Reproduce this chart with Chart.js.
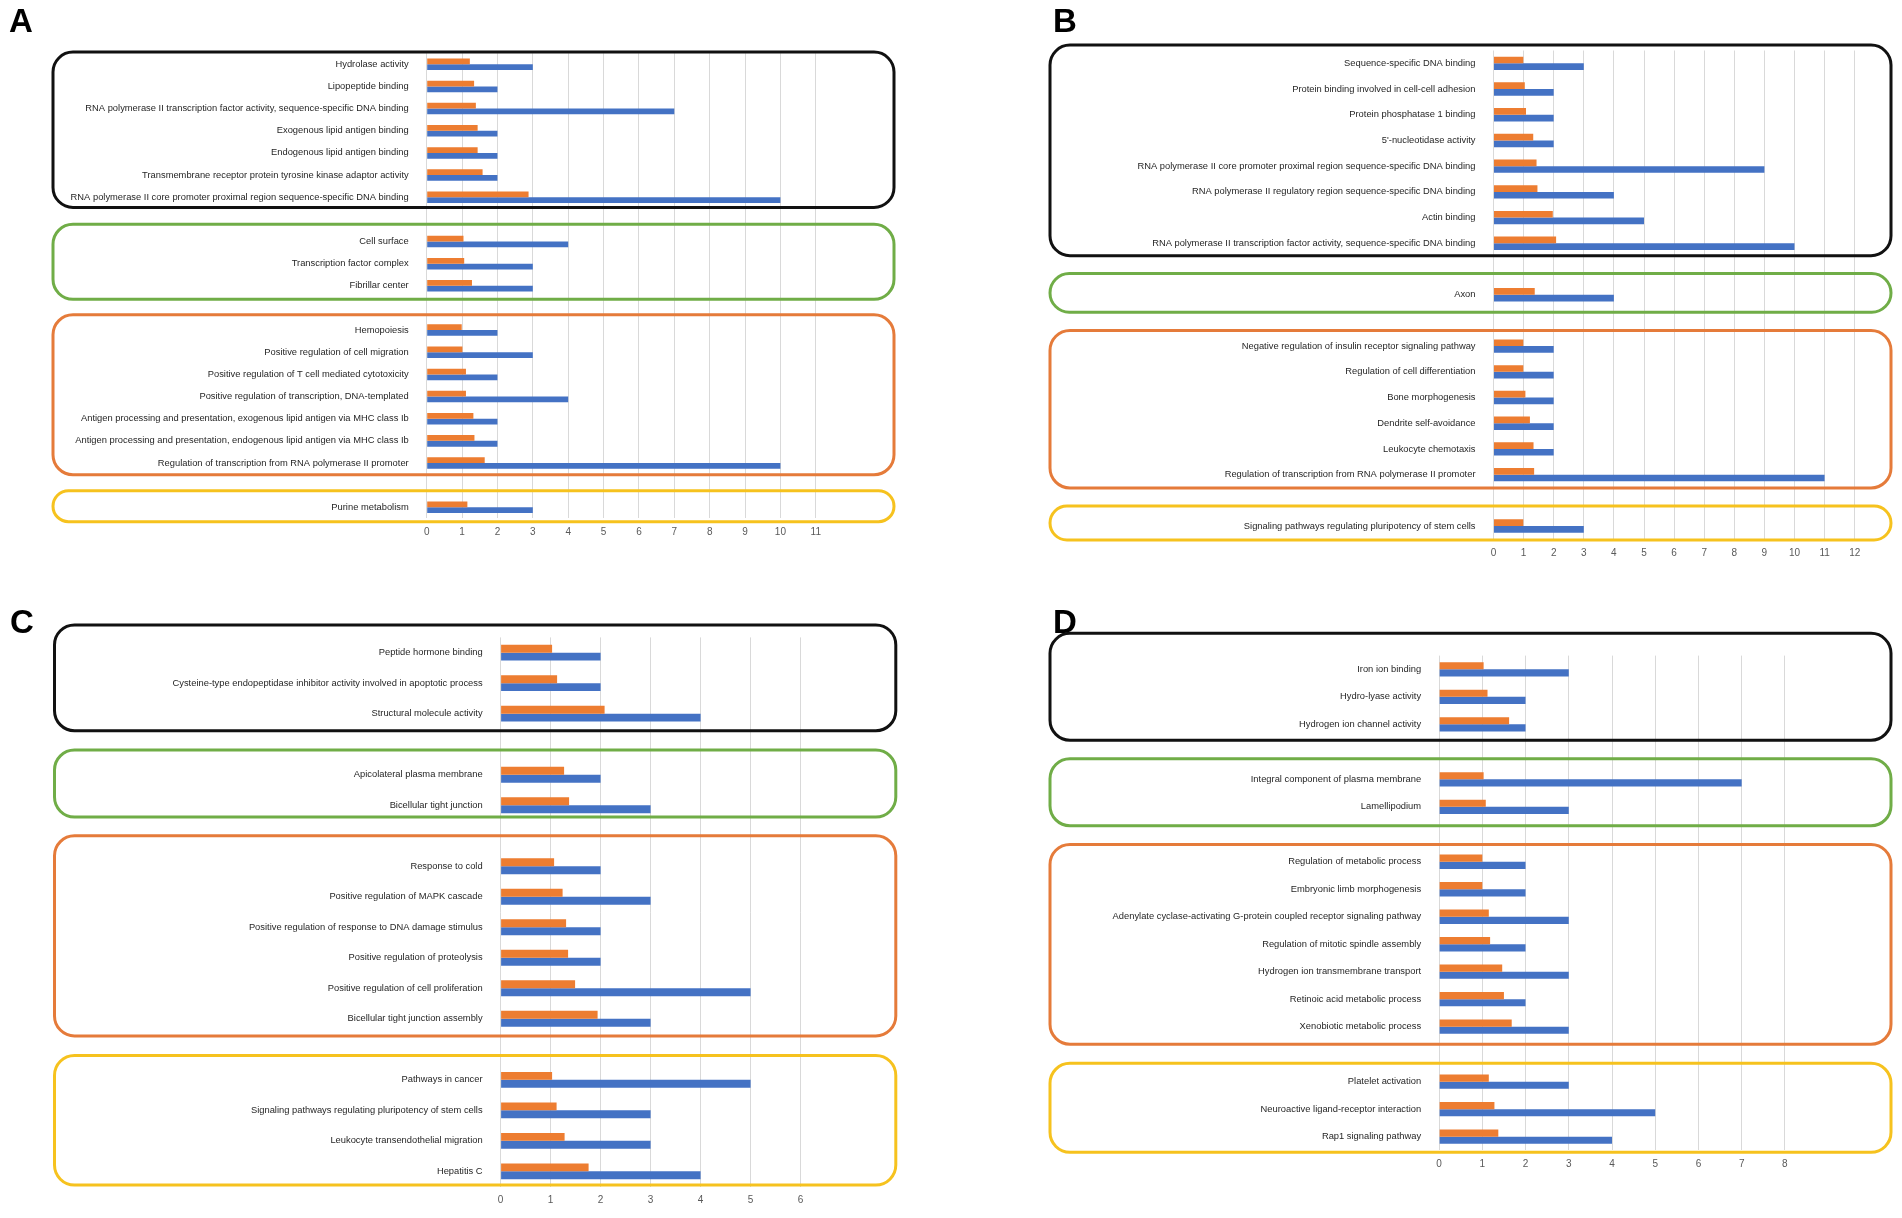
<!DOCTYPE html>
<html><head><meta charset="utf-8">
<script src="https://cdn.jsdelivr.net/npm/chart.js@4.4.1/dist/chart.umd.min.js"></script>
<style>
html,body{margin:0;padding:0;background:#fff;}
#wrap{position:relative;width:1902px;height:1218px;overflow:hidden;background:#fff;}
canvas{position:absolute;}
.letter{position:absolute;font:bold 33px "Liberation Sans",Arial,sans-serif;color:#000;line-height:1;}
</style></head><body>
<div id="wrap">
<canvas id="cA" width="951" height="600" style="left:0px;top:0px"></canvas>
<canvas id="cB" width="951" height="600" style="left:951px;top:0px"></canvas>
<canvas id="cC" width="951" height="618" style="left:0px;top:600px"></canvas>
<canvas id="cD" width="951" height="618" style="left:951px;top:600px"></canvas>
<div class="letter" style="left:9px;top:4px">A</div>
<div class="letter" style="left:1053px;top:4px">B</div>
<div class="letter" style="left:10px;top:605px">C</div>
<div class="letter" style="left:1053px;top:605px">D</div>
</div>
<script>
// ---------------- DATA ----------------
const labelsA = [
  "Hydrolase activity",
  "Lipopeptide binding",
  "RNA polymerase II transcription factor activity, sequence-specific DNA binding",
  "Exogenous lipid antigen binding",
  "Endogenous lipid antigen binding",
  "Transmembrane receptor protein tyrosine kinase adaptor activity",
  "RNA polymerase II core promoter proximal region sequence-specific DNA binding",
  "",
  "Cell surface",
  "Transcription factor complex",
  "Fibrillar center",
  "",
  "Hemopoiesis",
  "Positive regulation of cell migration",
  "Positive regulation of T cell mediated cytotoxicity",
  "Positive regulation of transcription, DNA-templated",
  "Antigen processing and presentation, exogenous lipid antigen via MHC class Ib",
  "Antigen processing and presentation, endogenous lipid antigen via MHC class Ib",
  "Regulation of transcription from RNA polymerase II promoter",
  "",
  "Purine metabolism"
];
const orangeA = [1.22,1.34,1.39,1.44,1.44,1.58,2.88,null,1.04,1.06,1.28,null,0.99,1.01,1.11,1.11,1.32,1.35,1.64,null,1.15];
const blueA   = [3,2,7,2,2,2,10,null,4,3,3,null,2,3,2,4,2,2,10,null,3];
const ticksMaxA = 11;

const labelsB = [
  "Sequence-specific DNA binding",
  "Protein binding involved in cell-cell adhesion",
  "Protein phosphatase 1 binding",
  "5'-nucleotidase activity",
  "RNA polymerase II core promoter proximal region sequence-specific DNA binding",
  "RNA polymerase II regulatory region sequence-specific DNA binding",
  "Actin binding",
  "RNA polymerase II transcription factor activity, sequence-specific DNA binding",
  "",
  "Axon",
  "",
  "Negative regulation of insulin receptor signaling pathway",
  "Regulation of cell differentiation",
  "Bone morphogenesis",
  "Dendrite self-avoidance",
  "Leukocyte chemotaxis",
  "Regulation of transcription from RNA polymerase II promoter",
  "",
  "Signaling pathways regulating pluripotency of stem cells"
];
const orangeB = [0.99,1.04,1.08,1.32,1.43,1.46,1.97,2.08,null,1.37,null,0.99,0.99,1.06,1.21,1.33,1.35,null,0.99];
const blueB   = [3,2,2,2,9,4,5,10,null,4,null,2,2,2,2,2,11,null,3];
const ticksMaxB = 12;

const labelsC = [
  "Peptide hormone binding",
  "Cysteine-type endopeptidase inhibitor activity involved in apoptotic process",
  "Structural molecule activity",
  "",
  "Apicolateral plasma membrane",
  "Bicellular tight junction",
  "",
  "Response to cold",
  "Positive regulation of MAPK cascade",
  "Positive regulation of response to DNA damage stimulus",
  "Positive regulation of proteolysis",
  "Positive regulation of cell proliferation",
  "Bicellular tight junction assembly",
  "",
  "Pathways in cancer",
  "Signaling pathways regulating pluripotency of stem cells",
  "Leukocyte transendothelial migration",
  "Hepatitis C"
];
const orangeC = [1.03,1.13,2.08,null,1.27,1.37,null,1.07,1.24,1.31,1.35,1.49,1.94,null,1.03,1.12,1.28,1.76];
const blueC   = [2,2,4,null,2,3,null,2,3,2,2,5,3,null,5,3,3,4];
const ticksMaxC = 6;

const labelsD = [
  "Iron ion binding",
  "Hydro-lyase activity",
  "Hydrogen ion channel activity",
  "",
  "Integral component of plasma membrane",
  "Lamellipodium",
  "",
  "Regulation of metabolic process",
  "Embryonic limb morphogenesis",
  "Adenylate cyclase-activating G-protein coupled receptor signaling pathway",
  "Regulation of mitotic spindle assembly",
  "Hydrogen ion transmembrane transport",
  "Retinoic acid metabolic process",
  "Xenobiotic metabolic process",
  "",
  "Platelet activation",
  "Neuroactive ligand-receptor interaction",
  "Rap1 signaling pathway"
];
const orangeD = [1.03,1.12,1.62,null,1.03,1.08,null,1.0,1.0,1.15,1.18,1.46,1.5,1.68,null,1.15,1.28,1.37];
const blueD   = [3,2,2,null,7,3,null,2,2,3,2,3,2,3,null,3,5,4];
const ticksMaxD = 8;

// group membership (first and last category index of each framed group)
const groupsA = [[0,6],[8,10],[12,18],[20,20]];
const groupsB = [[0,7],[9,9],[11,16],[18,18]];
const groupsC = [[0,2],[4,5],[7,12],[14,17]];
const groupsD = [[0,2],[4,5],[7,13],[15,17]];

// ---------------- STYLE / LAYOUT ----------------
const ORANGE = '#ED7D31', BLUE = '#4472C4';
const frameColors = ['#111111', '#70AD47', '#E57B3A', '#F6C21E'];
const FONT = '"Liberation Sans", Arial, sans-serif';

const layouts = {
  A: {left:426.7, right:815.8, top:53.2, bottom:518.4, boxL:53, boxR:894,
      pads:[[.55,.46],[.78,.61],[.69,.53],[.75,.65]]},
  B: {left:542.5, right:903.7, top:50.5, bottom:538.9, boxL:99, boxR:940,
      pads:[[.71,.48],[.82,.68],[.61,.52],[.78,.54]]},
  C: {left:500.6, right:800.6, top:37.4, bottom:586.6, boxL:54.5, boxR:895.8,
      pads:[[.91,.56],[.81,.39],[1.0,.56],[.8,.45]]},
  D: {left:488.1, right:833.9, top:55.6, bottom:550.4, boxL:99, boxR:940,
      pads:[[1.31,.58],[.75,.69],[.63,.64],[.67,.57]]}
};

const framePlugin = {
  id: 'groupFrames',
  afterDraw(chart, args, opts) {
    const ctx = chart.ctx, y = chart.scales.y;
    const step = y.getPixelForValue(1) - y.getPixelForValue(0);
    ctx.save();
    opts.groups.forEach((g, i) => {
      const top = y.getPixelForValue(g[0]) - opts.pads[i][0] * step;
      const bot = y.getPixelForValue(g[1]) + opts.pads[i][1] * step;
      const x = opts.boxL, w = opts.boxR - opts.boxL, h = bot - top;
      const r = Math.min(20, h / 2);
      ctx.beginPath();
      ctx.moveTo(x + r, top);
      ctx.lineTo(x + w - r, top);
      ctx.arcTo(x + w, top, x + w, top + r, r);
      ctx.lineTo(x + w, bot - r);
      ctx.arcTo(x + w, bot, x + w - r, bot, r);
      ctx.lineTo(x + r, bot);
      ctx.arcTo(x, bot, x, bot - r, r);
      ctx.lineTo(x, top + r);
      ctx.arcTo(x, top, x + r, top, r);
      ctx.closePath();
      ctx.strokeStyle = frameColors[i];
      ctx.lineWidth = 3;
      ctx.stroke();
    });
    ctx.restore();
  }
};

function makePanel(id, labels, orange, blue, xmax, groups, L) {
  const canvas = document.getElementById(id);
  const W = canvas.width, H = canvas.height;
  const xAxisH = 30;
  new Chart(canvas, {
    type: 'bar',
    data: {
      labels: labels,
      datasets: [
        {data: orange, backgroundColor: ORANGE, borderWidth: 0},
        {data: blue, backgroundColor: BLUE, borderWidth: 0}
      ]
    },
    options: {
      indexAxis: 'y',
      responsive: false,
      animation: false,
      devicePixelRatio: 1,
      categoryPercentage: 0.52,
      barPercentage: 1.0,
      layout: {padding: {left: 0, top: L.top, right: W - L.right, bottom: H - L.bottom - xAxisH}},
      plugins: {
        legend: {display: false},
        tooltip: {enabled: false},
        groupFrames: {groups: groups, pads: L.pads, boxL: L.boxL, boxR: L.boxR}
      },
      scales: {
        x: {
          type: 'linear', min: 0, max: xmax,
          grid: {color: '#D9D9D9', lineWidth: 1, drawTicks: false},
          border: {display: false},
          ticks: {stepSize: 1, padding: 8, color: '#595959', font: {family: FONT, size: 10}},
          afterFit(s) { s.height = xAxisH; }
        },
        y: {
          grid: {display: false},
          border: {display: false},
          ticks: {autoSkip: false, padding: 10, color: '#262626', font: {family: FONT, size: 9.35}},
          afterFit(s) { s.width = L.left; }
        }
      }
    },
    plugins: [framePlugin]
  });
}

makePanel('cA', labelsA, orangeA, blueA, ticksMaxA, groupsA, layouts.A);
makePanel('cB', labelsB, orangeB, blueB, ticksMaxB, groupsB, layouts.B);
makePanel('cC', labelsC, orangeC, blueC, ticksMaxC, groupsC, layouts.C);
makePanel('cD', labelsD, orangeD, blueD, ticksMaxD, groupsD, layouts.D);
</script>
</body></html>
